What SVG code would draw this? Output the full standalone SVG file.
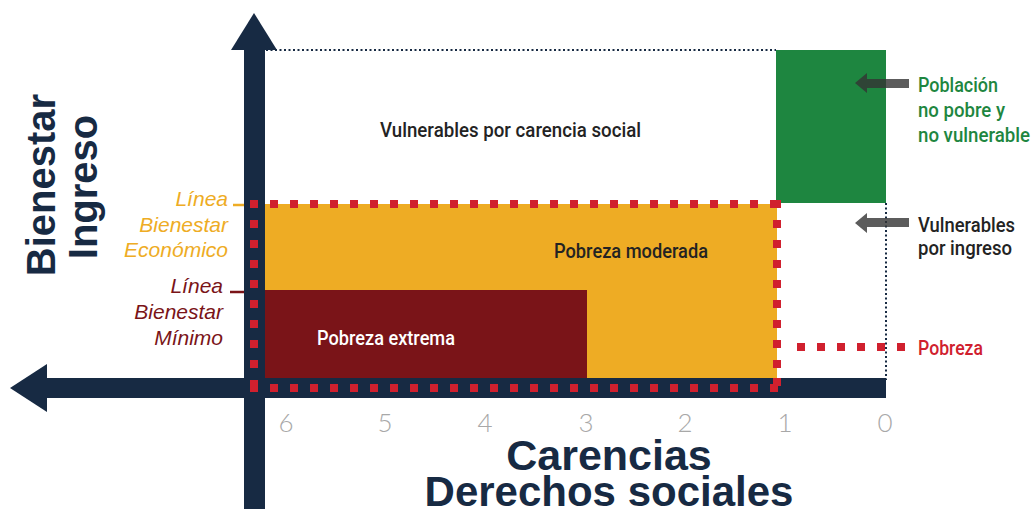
<svg xmlns="http://www.w3.org/2000/svg" width="1034" height="509" viewBox="0 0 1034 509">
<style>
.lbl{font-family:Roboto,"Liberation Sans",Arial,sans-serif;font-weight:500;font-size:20px;fill:#232323}
.ax{font-family:"Liberation Sans",Arial,sans-serif;font-weight:bold;fill:#172a43}
.it{font-family:"Liberation Sans",Arial,sans-serif;font-style:italic;font-size:21px;text-anchor:end}
.num{font-family:Lato,"Liberation Sans",sans-serif;font-weight:300;font-size:26px;fill:#a8a8a8;text-anchor:middle}
.red{fill:none;stroke:#d0202e;stroke-width:8;stroke-dasharray:8 12}
.dot{fill:none;stroke:#172a43;stroke-width:2;stroke-dasharray:2 2.5}
.navy{fill:#172a43}
</style>
<rect width="1034" height="509" fill="#ffffff"/>

<g id="area-vulnerables-carencia">
  <text class="lbl" x="380" y="137" textLength="261" lengthAdjust="spacingAndGlyphs">Vulnerables por carencia social</text>
</g>
<g id="area-no-pobre">
  <rect x="776" y="50" width="110" height="153" fill="#1e8640"/>
</g>
<g id="area-pobreza-moderada">
  <rect x="265" y="204" width="512" height="174" fill="#eeac24"/>
  <text class="lbl" x="554" y="258" textLength="154" lengthAdjust="spacingAndGlyphs">Pobreza moderada</text>
</g>
<g id="area-pobreza-extrema">
  <rect x="265" y="290" width="322" height="88" fill="#7a1418"/>
  <text class="lbl" x="317" y="345" textLength="138" lengthAdjust="spacingAndGlyphs" style="fill:#ffffff">Pobreza extrema</text>
</g>

<g id="connectors">
  <line class="dot" x1="266" y1="50" x2="776" y2="50"/>
  <line class="dot" x1="886" y1="203" x2="886" y2="380"/>
  <line class="red" x1="250" y1="204" x2="781" y2="204"/>
  <line class="red" x1="254" y1="200" x2="254" y2="392"/>
  <line class="red" x1="250" y1="388" x2="781" y2="388"/>
  <line class="red" x1="777" y1="200" x2="777" y2="392"/>
  <line class="red" x1="797" y1="347" x2="905" y2="347"/>
  <line x1="233" y1="205" x2="252" y2="205" stroke="#eeac24" stroke-width="2.5"/>
  <line x1="230" y1="292" x2="265" y2="292" stroke="#7a1418" stroke-width="2.5"/>
  <polygon points="855,83 867,73 867,79 909,79 909,88 867,88 867,93" fill="#333333" fill-opacity="0.8"/>
  <polygon points="855,223 867,213 867,218 909,218 909,227 867,227 867,233" fill="#333333" fill-opacity="0.8"/>
</g>

<g id="axes">
  <rect class="navy" x="244" y="50" width="21" height="459"/>
  <polygon class="navy" points="254,13 277,50 231,50"/>
  <rect class="navy" x="47" y="378" width="839" height="20"/>
  <polygon class="navy" points="10,388 47,364 47,412"/>
  <line class="red" x1="254" y1="200" x2="254" y2="392"/>
  <line class="red" x1="250" y1="388" x2="781" y2="388"/>
  <line class="red" x1="777" y1="378" x2="777" y2="392"/>
</g>

<g id="label-y-axis">
  <text class="ax" font-size="40" text-anchor="middle" transform="translate(55,185) rotate(-90)">Bienestar</text>
  <text class="ax" font-size="40" text-anchor="middle" transform="translate(97,187) rotate(-90)">Ingreso</text>
</g>

<g id="label-linea-economico" style="fill:#eeac24">
  <text class="it" x="228" y="206">Línea</text>
  <text class="it" x="228" y="232">Bienestar</text>
  <text class="it" x="228" y="257">Económico</text>
</g>
<g id="label-linea-minimo" style="fill:#7a1418">
  <text class="it" x="223" y="293">Línea</text>
  <text class="it" x="223" y="319">Bienestar</text>
  <text class="it" x="223" y="345">Mínimo</text>
</g>

<g id="label-poblacion">
  <text class="lbl" style="fill:#1e8640" x="918" y="92" textLength="80" lengthAdjust="spacingAndGlyphs">Población</text>
  <text class="lbl" style="fill:#1e8640" x="918" y="117" textLength="87" lengthAdjust="spacingAndGlyphs">no pobre y</text>
  <text class="lbl" style="fill:#1e8640" x="918" y="142" textLength="112" lengthAdjust="spacingAndGlyphs">no vulnerable</text>
</g>
<g id="label-vulnerables-ingreso">
  <text class="lbl" x="918" y="232" textLength="97" lengthAdjust="spacingAndGlyphs">Vulnerables</text>
  <text class="lbl" x="918" y="255" textLength="94" lengthAdjust="spacingAndGlyphs">por ingreso</text>
</g>
<g id="label-pobreza">
  <text class="lbl" style="fill:#d0202e" x="918" y="355" textLength="65" lengthAdjust="spacingAndGlyphs">Pobreza</text>
</g>

<g id="ticks">
  <text class="num" x="286" y="432">6</text>
  <text class="num" x="385" y="432">5</text>
  <text class="num" x="485" y="432">4</text>
  <text class="num" x="586" y="432">3</text>
  <text class="num" x="685" y="432">2</text>
  <text class="num" x="785" y="432">1</text>
  <text class="num" x="885" y="432">0</text>
</g>

<g id="label-x-axis">
  <text class="ax" font-size="43" text-anchor="middle" x="609" y="470">Carencias</text>
  <text class="ax" font-size="42" text-anchor="middle" x="609" y="506">Derechos sociales</text>
</g>
</svg>
